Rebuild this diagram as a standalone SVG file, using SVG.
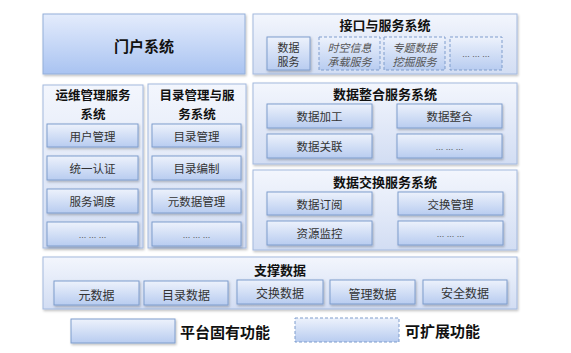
<svg xmlns="http://www.w3.org/2000/svg" width="571" height="353" viewBox="0 0 571 353">
<defs>
<linearGradient id="gPanel" x1="0" y1="0" x2="0" y2="1"><stop offset="0" stop-color="#f3f6fd"/><stop offset="1" stop-color="#d2ddf3"/></linearGradient>
<linearGradient id="gItem" x1="0" y1="0" x2="0" y2="1"><stop offset="0" stop-color="#edf2fc"/><stop offset="1" stop-color="#b8ccf0"/></linearGradient>
<linearGradient id="gPortal" x1="0" y1="0" x2="0" y2="1"><stop offset="0" stop-color="#e4ecfc"/><stop offset="1" stop-color="#a9c3f1"/></linearGradient>
<filter id="sh" x="-10%" y="-10%" width="125%" height="140%"><feDropShadow dx="1" dy="1.5" stdDeviation="1" flood-color="#000" flood-opacity="0.25"/></filter>
</defs>
<style>
.panel{fill:url(#gPanel);stroke:#a3b9de;stroke-width:1;filter:url(#sh)}
.portal{fill:url(#gPortal);stroke:#93afd9;stroke-width:1;filter:url(#sh)}
.item{fill:url(#gItem);stroke:#7f9dcd;stroke-width:1;filter:url(#sh)}
.dash{fill:url(#gItem);stroke:#7f9dcd;stroke-width:1;stroke-dasharray:3,2}
.t{font-family:"Noto Sans CJK SC","Noto Sans",sans-serif;text-anchor:middle;dominant-baseline:central;fill:#111;font-weight:bold;font-size:13px}
.t2{font-size:12.5px}
.i{font-family:"Noto Sans CJK SC","Noto Sans",sans-serif;text-anchor:middle;dominant-baseline:central;fill:#333;font-size:11.5px}
.s{font-size:11px}
.it{font-style:italic;fill:#555}
.d{font-family:"Liberation Sans",sans-serif;text-anchor:middle;dominant-baseline:central;fill:#555;font-size:9px}
.lg{font-family:"Noto Sans CJK SC","Noto Sans",sans-serif;dominant-baseline:central;fill:#111;font-weight:bold;font-size:15px}
</style>
<rect width="571" height="353" fill="#fff"/>

<g id="portal">
<rect class="portal" x="43" y="14" width="202" height="60"/>
<text class="t" x="144" y="45" style="font-size:15px">门户系统</text>
</g>

<g id="interface">
<rect class="panel" x="253" y="14" width="264" height="60"/>
<text class="t" x="385" y="24">接口与服务系统</text>
<g id="data-service"><rect class="item" x="267" y="37" width="43" height="33"/><text class="i s" x="288.5" y="46.5">数据<tspan x="288.5" dy="14.5">服务</tspan></text></g>
<g id="spatial"><rect class="dash" x="319" y="37" width="61" height="33"/><text class="i s it" x="349.5" y="46.5">时空信息<tspan x="349.5" dy="14.5">承载服务</tspan></text></g>
<g id="topic"><rect class="dash" x="384" y="37" width="61" height="33"/><text class="i s it" x="414.5" y="46.5">专题数据<tspan x="414.5" dy="14.5">挖掘服务</tspan></text></g>
<g id="if-more"><rect class="dash" x="450" y="37" width="52" height="33"/><text class="d" x="476" y="54">... ... ...</text></g>
</g>

<g id="ops">
<rect class="panel" x="43" y="85" width="100" height="163"/>
<text class="t t2" x="93" y="94">运维管理服务<tspan x="93" dy="18.5">系统</tspan></text>
<g id="ops-1"><rect class="item" x="47" y="124" width="91" height="23"/><text class="i" x="92.5" y="135.5">用户管理</text></g>
<g id="ops-2"><rect class="item" x="47" y="156" width="91" height="24"/><text class="i" x="92.5" y="168">统一认证</text></g>
<g id="ops-3"><rect class="item" x="47" y="189" width="91" height="24"/><text class="i" x="92.5" y="201">服务调度</text></g>
<g id="ops-4"><rect class="item" x="47" y="222" width="91" height="24"/><text class="d" x="92.5" y="235">... ... ...</text></g>
</g>

<g id="catalog">
<rect class="panel" x="148" y="84" width="98" height="164"/>
<text class="t t2" x="197" y="94">目录管理与服<tspan x="197" dy="18.5">务系统</tspan></text>
<g id="cat-1"><rect class="item" x="152" y="124" width="89" height="23"/><text class="i" x="196.5" y="135.5">目录管理</text></g>
<g id="cat-2"><rect class="item" x="152" y="156" width="89" height="24"/><text class="i" x="196.5" y="168">目录编制</text></g>
<g id="cat-3"><rect class="item" x="152" y="189" width="89" height="24"/><text class="i" x="196.5" y="201">元数据管理</text></g>
<g id="cat-4"><rect class="item" x="152" y="222" width="89" height="24"/><text class="d" x="196.5" y="235">... ... ...</text></g>
</g>

<g id="integration">
<rect class="panel" x="253" y="83" width="264" height="81"/>
<text class="t" x="385" y="93.5">数据整合服务系统</text>
<g id="int-1"><rect class="item" x="267" y="104" width="105" height="24"/><text class="i" x="319.5" y="116">数据加工</text></g>
<g id="int-2"><rect class="item" x="397" y="104" width="105" height="24"/><text class="i" x="449.5" y="116">数据整合</text></g>
<g id="int-3"><rect class="item" x="267" y="134" width="105" height="24"/><text class="i" x="319.5" y="146">数据关联</text></g>
<g id="int-4"><rect class="item" x="397" y="134" width="105" height="24"/><text class="d" x="449.5" y="147">... ... ...</text></g>
</g>

<g id="exchange">
<rect class="panel" x="253" y="170" width="264" height="80"/>
<text class="t" x="385" y="181">数据交换服务系统</text>
<g id="ex-1"><rect class="item" x="267" y="192" width="105" height="23"/><text class="i" x="319.5" y="203.5">数据订阅</text></g>
<g id="ex-2"><rect class="item" x="398" y="192" width="105" height="23"/><text class="i" x="450.5" y="203.5">交换管理</text></g>
<g id="ex-3"><rect class="item" x="267" y="221" width="105" height="24"/><text class="i" x="319.5" y="233">资源监控</text></g>
<g id="ex-4"><rect class="item" x="398" y="221" width="105" height="24"/><text class="d" x="450.5" y="234">... ... ...</text></g>
</g>

<g id="support">
<rect class="panel" x="43" y="257" width="474" height="52"/>
<text class="t" x="280" y="269">支撑数据</text>
<g id="sup-1"><rect class="item" x="54" y="281" width="85" height="24"/><text class="i" x="96.5" y="294" style="font-size:12px">元数据</text></g>
<g id="sup-2"><rect class="item" x="144" y="281" width="84" height="24"/><text class="i" x="186" y="294" style="font-size:12px">目录数据</text></g>
<g id="sup-3"><rect class="item" x="237" y="280" width="86" height="24"/><text class="i" x="280" y="292.5" style="font-size:12px">交换数据</text></g>
<g id="sup-4"><rect class="item" x="330" y="280" width="85" height="24"/><text class="i" x="372.5" y="293" style="font-size:12px">管理数据</text></g>
<g id="sup-5"><rect class="item" x="423" y="280" width="84" height="24"/><text class="i" x="465" y="292" style="font-size:12px">安全数据</text></g>
</g>

<g id="legend">
<rect class="item" x="71" y="319" width="104" height="24"/>
<text class="lg" x="180" y="331">平台固有功能</text>
<rect class="dash" x="295" y="318" width="104" height="24"/>
<text class="lg" x="405" y="330">可扩展功能</text>
</g>
</svg>
